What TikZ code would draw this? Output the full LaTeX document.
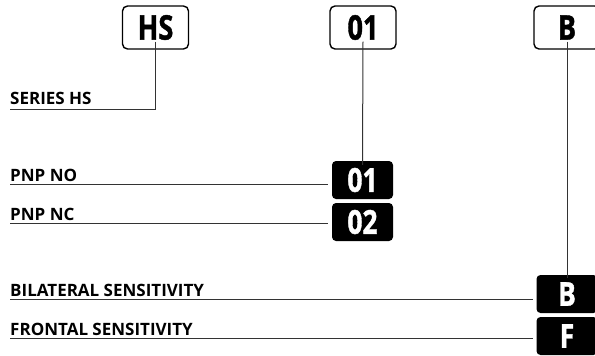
\documentclass[tikz,border=0pt]{standalone}
\usepackage{fontspec}
\setmainfont{Open Sans}
\newfontfamily\boxfont[FakeStretch=0.8,FakeBold=1.2]{Open Sans}
\usepackage{tikz}

\begin{document}
\begin{tikzpicture}[x=1pt,y=-1pt,
  codebox/.style={draw=black,line width=1.4pt,rounded corners=5pt,minimum width=66pt,minimum height=43pt,inner sep=0pt,font=\boxfont\fontsize{34}{34}\selectfont\bfseries},
  optbox/.style={fill=black,text=white,rounded corners=4pt,minimum width=61pt,minimum height=38pt,inner sep=0pt,font=\boxfont\fontsize{33}{33}\selectfont\bfseries},
  label/.style={anchor=base west,inner sep=0pt,font=\fontsize{17}{17}\selectfont\bfseries},
  link/.style={draw=black!80,line width=1pt}]
\useasboundingbox (0,0) rectangle (595,356);
\clip (0,0) rectangle (595,356);
% code boxes along the top
\node[codebox] (series) at (155.5,27.5) {HS};
\node[codebox] (output) at (363,27.5) {01};
\node[codebox] (sens) at (567,27.5) {B};
% option boxes
\node[optbox] (pnpno) at (362.5,180) {01};
\node[optbox] (pnpnc) at (362.5,222) {02};
\node[optbox] (bilat) at (567,294) {B};
\node[optbox] (front) at (567,336) {F};
% labels
\node[label] (lseries) at (10,104) {SERIES HS};
\node[label] (lpnpno) at (10,181) {PNP NO};
\node[label] (lpnpnc) at (10,220) {PNP NC};
\node[label] (lbilat) at (10,296) {BILATERAL SENSITIVITY};
\node[label] (lfront) at (10,335) {FRONTAL SENSITIVITY};
% connectors
\coordinate (kseries) at (series.south |- 0,109.5);
\draw[link] ([yshift=8pt]series.south) -- (kseries) -- (lseries.west |- kseries);
\draw[link] ([yshift=8pt]output.south) -- ([yshift=-4pt]pnpno.north);
\draw[link] ([yshift=8pt]sens.south) -- ([yshift=-3pt]bilat.north);
\draw[link] (lpnpno.west |- 0,184) -- ([xshift=-4pt]pnpno.west |- 0,184);
\draw[link] (lpnpnc.west |- 0,223) -- ([xshift=-4pt]pnpnc.west |- 0,223);
\draw[link] (lbilat.west |- 0,299) -- ([xshift=-3pt]bilat.west |- 0,299);
\draw[link] (lfront.west |- 0,338) -- ([xshift=-3pt]front.west |- 0,338);
\end{tikzpicture}
\end{document}
